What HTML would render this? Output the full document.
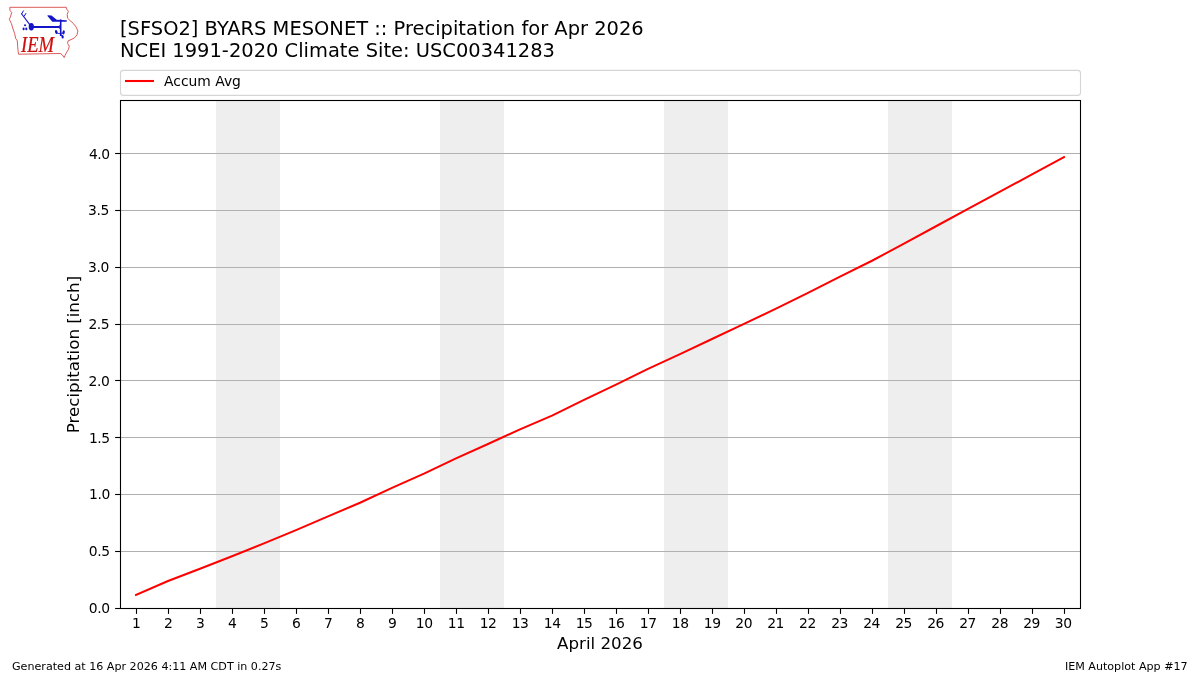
<!DOCTYPE html>
<html lang="en">
<head>
<meta charset="utf-8">
<title>IEM Autoplot App #17</title>
<style>
html,body{margin:0;padding:0;background:#fff;}
body{width:1200px;height:675px;overflow:hidden;}
svg{display:block;will-change:transform;}
text{font-family:"DejaVu Sans","Liberation Sans",sans-serif;fill:#000;}
.t14{font-size:19.44px;}
.t12{font-size:16.67px;}
.t10{font-size:13.89px;}
.t8{font-size:11.11px;}
</style>
</head>
<body>
<svg width="1200" height="675" viewBox="0 0 1200 675">
<rect x="0" y="0" width="1200" height="675" fill="#ffffff"/>

<g fill="#eeeeee">
<rect x="216" y="101" width="64" height="507"/>
<rect x="440" y="101" width="64" height="507"/>
<rect x="664" y="101" width="64" height="507"/>
<rect x="888" y="101" width="64" height="507"/>
</g>
<g stroke="#b0b0b0" stroke-width="1.1" fill="none">
<line x1="121" y1="551.5" x2="1080" y2="551.5"/>
<line x1="121" y1="494.5" x2="1080" y2="494.5"/>
<line x1="121" y1="437.5" x2="1080" y2="437.5"/>
<line x1="121" y1="380.5" x2="1080" y2="380.5"/>
<line x1="121" y1="324.5" x2="1080" y2="324.5"/>
<line x1="121" y1="267.5" x2="1080" y2="267.5"/>
<line x1="121" y1="210.5" x2="1080" y2="210.5"/>
<line x1="121" y1="153.5" x2="1080" y2="153.5"/>
</g>
<polyline points="136,595.00 168,581.00 200,568.80 232,556.30 264,543.40 296,530.15 328,516.40 360,502.75 392,487.90 424,473.60 456,458.40 488,444.00 520,429.40 552,415.60 584,399.80 616,384.65 648,368.90 680,354.20 712,339.00 744,323.80 776,308.70 808,292.90 840,276.60 872,260.75 904,243.60 936,226.25 968,208.80 1000,191.70 1032,174.40 1064,157.00" fill="none" stroke="#ff0000" stroke-width="2.0" stroke-linejoin="round" stroke-linecap="square"/>
<rect x="120.5" y="100.5" width="960.0" height="508.0" fill="none" stroke="#000" stroke-width="1.1"/>
<g stroke="#000" stroke-width="1.1">
<line x1="136.5" y1="609" x2="136.5" y2="613.9"/>
<line x1="168.5" y1="609" x2="168.5" y2="613.9"/>
<line x1="200.5" y1="609" x2="200.5" y2="613.9"/>
<line x1="232.5" y1="609" x2="232.5" y2="613.9"/>
<line x1="264.5" y1="609" x2="264.5" y2="613.9"/>
<line x1="296.5" y1="609" x2="296.5" y2="613.9"/>
<line x1="328.5" y1="609" x2="328.5" y2="613.9"/>
<line x1="360.5" y1="609" x2="360.5" y2="613.9"/>
<line x1="392.5" y1="609" x2="392.5" y2="613.9"/>
<line x1="424.5" y1="609" x2="424.5" y2="613.9"/>
<line x1="456.5" y1="609" x2="456.5" y2="613.9"/>
<line x1="488.5" y1="609" x2="488.5" y2="613.9"/>
<line x1="520.5" y1="609" x2="520.5" y2="613.9"/>
<line x1="552.5" y1="609" x2="552.5" y2="613.9"/>
<line x1="584.5" y1="609" x2="584.5" y2="613.9"/>
<line x1="616.5" y1="609" x2="616.5" y2="613.9"/>
<line x1="648.5" y1="609" x2="648.5" y2="613.9"/>
<line x1="680.5" y1="609" x2="680.5" y2="613.9"/>
<line x1="712.5" y1="609" x2="712.5" y2="613.9"/>
<line x1="744.5" y1="609" x2="744.5" y2="613.9"/>
<line x1="776.5" y1="609" x2="776.5" y2="613.9"/>
<line x1="808.5" y1="609" x2="808.5" y2="613.9"/>
<line x1="840.5" y1="609" x2="840.5" y2="613.9"/>
<line x1="872.5" y1="609" x2="872.5" y2="613.9"/>
<line x1="904.5" y1="609" x2="904.5" y2="613.9"/>
<line x1="936.5" y1="609" x2="936.5" y2="613.9"/>
<line x1="968.5" y1="609" x2="968.5" y2="613.9"/>
<line x1="1000.5" y1="609" x2="1000.5" y2="613.9"/>
<line x1="1032.5" y1="609" x2="1032.5" y2="613.9"/>
<line x1="1064.5" y1="609" x2="1064.5" y2="613.9"/>
<line x1="115.1" y1="608.5" x2="120" y2="608.5"/>
<line x1="115.1" y1="551.5" x2="120" y2="551.5"/>
<line x1="115.1" y1="494.5" x2="120" y2="494.5"/>
<line x1="115.1" y1="437.5" x2="120" y2="437.5"/>
<line x1="115.1" y1="380.5" x2="120" y2="380.5"/>
<line x1="115.1" y1="324.5" x2="120" y2="324.5"/>
<line x1="115.1" y1="267.5" x2="120" y2="267.5"/>
<line x1="115.1" y1="210.5" x2="120" y2="210.5"/>
<line x1="115.1" y1="153.5" x2="120" y2="153.5"/>
</g>
<g class="t10" text-anchor="middle">
<text x="136.45" y="627.59" letter-spacing="0">1</text>
<text x="168.31" y="627.59" letter-spacing="0">2</text>
<text x="200.42" y="627.56" letter-spacing="0">3</text>
<text x="232.32" y="627.54" letter-spacing="0">4</text>
<text x="264.32" y="627.67" letter-spacing="0">5</text>
<text x="296.34" y="627.71" letter-spacing="0">6</text>
<text x="328.39" y="627.71" letter-spacing="0">7</text>
<text x="360.43" y="627.65" letter-spacing="0">8</text>
<text x="392.37" y="627.61" letter-spacing="0">9</text>
<text x="424.17" y="627.64" letter-spacing="-0.45">10</text>
<text x="456.19" y="627.59" letter-spacing="-0.45">11</text>
<text x="488.09" y="627.60" letter-spacing="-0.45">12</text>
<text x="520.12" y="627.58" letter-spacing="-0.45">13</text>
<text x="552.17" y="627.56" letter-spacing="-0.45">14</text>
<text x="584.12" y="627.65" letter-spacing="-0.45">15</text>
<text x="616.12" y="627.66" letter-spacing="-0.45">16</text>
<text x="648.24" y="627.64" letter-spacing="-0.45">17</text>
<text x="680.22" y="627.63" letter-spacing="-0.45">18</text>
<text x="712.16" y="627.61" letter-spacing="-0.45">19</text>
<text x="743.65" y="627.64" letter-spacing="-0.45">20</text>
<text x="775.57" y="627.59" letter-spacing="-0.45">21</text>
<text x="807.50" y="627.59" letter-spacing="-0.45">22</text>
<text x="839.55" y="627.58" letter-spacing="-0.45">23</text>
<text x="871.62" y="627.56" letter-spacing="-0.45">24</text>
<text x="903.57" y="627.64" letter-spacing="-0.45">25</text>
<text x="935.61" y="627.65" letter-spacing="-0.45">26</text>
<text x="967.61" y="627.63" letter-spacing="-0.45">27</text>
<text x="999.72" y="627.62" letter-spacing="-0.45">28</text>
<text x="1031.63" y="627.60" letter-spacing="-0.45">29</text>
<text x="1063.18" y="627.63" letter-spacing="-0.45">30</text>
</g>
<g class="t10" text-anchor="end">
<text x="109.70" y="612.68" letter-spacing="-0.4">0.0</text>
<text x="109.59" y="555.69" letter-spacing="-0.4">0.5</text>
<text x="109.89" y="498.64" letter-spacing="-0.4">1.0</text>
<text x="109.80" y="442.65" letter-spacing="-0.4">1.5</text>
<text x="109.39" y="385.64" letter-spacing="-0.4">2.0</text>
<text x="109.26" y="328.65" letter-spacing="-0.4">2.5</text>
<text x="108.92" y="271.63" letter-spacing="-0.4">3.0</text>
<text x="108.83" y="214.64" letter-spacing="-0.4">3.5</text>
<text x="109.80" y="158.62" letter-spacing="-0.4">4.0</text>
</g>
<text class="t12" x="600" y="649" text-anchor="middle">April 2026</text>
<text class="t12" transform="translate(78.5,354.5) rotate(-90)" text-anchor="middle">Precipitation [inch]</text>
<rect x="120.5" y="70.4" width="960" height="24.95" rx="2.8" ry="2.8" fill="#ffffff" stroke="#d5d5d5" stroke-width="1.11"/>
<line x1="125" y1="81" x2="154" y2="81" stroke="#ff0000" stroke-width="2.08"/>
<text class="t10" x="164" y="86">Accum Avg</text>
<text class="t14" x="120" y="35" letter-spacing="0.01">[SFSO2] BYARS MESONET :: Precipitation for Apr 2026</text>
<text class="t14" x="120" y="57" letter-spacing="0.01">NCEI 1991-2020 Climate Site: USC00341283</text>
<text class="t8" x="12" y="670">Generated at 16 Apr 2026 4:11 AM CDT in 0.27s</text>
<text class="t8" x="1187.6" y="670" text-anchor="end">IEM Autoplot App #17</text>
<g id="iem-logo">
<path d="M9.8 7.3 L66.3 7.3 L66.7 9.2 L68.4 11.3 L67.2 14.3 L67.6 18.2 L70.2 20.7 L73.2 23.3 L76.2 27.2 L77.9 31 L77 34.9 L74.5 37.9 L71 39.6 L68 40.9 L67.6 43.5 L69.3 46.1 L68.4 49.5 L66.3 52.9 L65 55.5 L64.2 57.6 L62 54.6 L60.3 53.5 L18.6 54.2 L18.2 51.6 L17.7 46.9 L17.3 40.9 L15.6 38.3 L14.7 33.6 L13 28.9 L11.3 23.3 L9.3 19.4 L10.4 16.9 L11.7 12.6 L10 10.4 Z" fill="none" stroke="#dc5a5a" stroke-width="1" stroke-linejoin="round"/>
<g fill="#1414c8" stroke="none">
<ellipse cx="31.3" cy="26.7" rx="2.6" ry="3.7"/>
<path d="M31.3 25.9 L58.6 25.9 L59.9 24.9 L59.9 29 L58.6 27.9 L31.3 27.9 Z"/>
<rect x="59.9" y="19.4" width="1.6" height="16.6"/>
<path d="M47.5 15.3 L51.5 15.4 L56.7 19.8 L66.7 20.3 L66.7 21.7 L52.3 21.8 L47.5 16.1 Z"/>
<circle cx="25.05" cy="25.2" r="1.05"/><ellipse cx="23.6" cy="28.9" rx="1.05" ry="1.3"/><ellipse cx="26.3" cy="28.9" rx="1.05" ry="1.3"/>
<ellipse cx="56.3" cy="32" rx="1.3" ry="2.0" transform="rotate(-15 56.3 32)"/>
<ellipse cx="63.6" cy="32.4" rx="1.2" ry="2.1" transform="rotate(10 63.6 32.4)"/>
<ellipse cx="62.6" cy="36.7" rx="1.15" ry="1.8" transform="rotate(-10 62.6 36.7)"/>
</g>
<g stroke="#1414c8" fill="none" stroke-linecap="butt">
<path d="M31.3 26.7 L21.3 13.5" stroke-width="1.15"/>
<path d="M21.5 14 L23.6 10.5 M23.9 16.6 L26.1 13.1" stroke-width="1.0"/>
<path d="M57 32.8 Q59 34.2 60.7 33.4 Q62.2 32.6 63.2 33.4 M60.7 34 L62.6 36.7" stroke-width="0.9"/>
</g>
<text x="0" y="0" transform="translate(21,51.6) scale(1,1.22)" style="font-family:'Liberation Serif','DejaVu Serif',serif;font-style:italic;font-size:18.6px;fill:#cc1010;stroke:#cc1010;stroke-width:0.2px;">IEM</text>
</g>

</svg>
</body>
</html>
